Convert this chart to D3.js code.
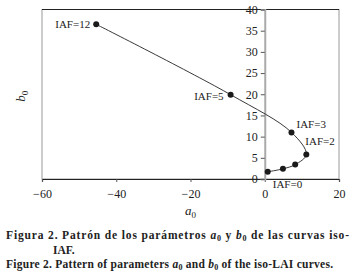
<!DOCTYPE html>
<html lang="es">
<head>
<meta charset="UTF-8">
<script src="https://d3js.org/d3.v7.min.js"></script>
<style>
  body { margin: 0; background: #fff; }
  svg text { font-family: "Liberation Serif", "DejaVu Serif", serif; fill: #222; }
  .cap { font-weight: bold; font-size: 11.5px; }
</style>
</head>
<body>
<svg width="354" height="276"></svg>
<script>
// a0, b0 per IAF level
const iaf = [0, 0.5, 1, 2, 3, 5, 12];
const a0 = [0.8, 4.9, 8.2, 11.2, 7.2, -9.2, -45.4];
const b0 = [1.7, 2.4, 3.4, 5.8, 11.0, 19.9, 36.5];
const xTicks = [-60, -40, -20, 0, 20];
const yTicks = [0, 5, 10, 15, 20, 25, 30, 35, 40];
const labelled = [
  { iaf: 12, text: "IAF=12", dx: -6, dy: 4, anchor: "end" },
  { iaf: 5, text: "IAF=5", dx: -7, dy: 5, anchor: "end" },
  { iaf: 3, text: "IAF=3", dx: 5, dy: -4, anchor: "start" },
  { iaf: 2, text: "IAF=2", dx: -1, dy: -9, anchor: "start" }
];

const data = iaf.map((d, i) => ({ iaf: d, a: a0[i], b: b0[i] }));

const svg = d3.select("svg");
const margin = { top: 9.5, right: 15, bottom: 97, left: 42 };
const W = 354, H = 276;

const x = d3.scaleLinear().domain([-60, 20]).range([margin.left, W - margin.right]);
const y = d3.scaleLinear().domain([0, 40]).range([H - margin.bottom, margin.top]);

// frame
svg.append("rect")
  .attr("x", x(-60)).attr("y", y(40))
  .attr("width", x(20) - x(-60)).attr("height", y(0) - y(40))
  .attr("fill", "none").attr("stroke", "#999").attr("stroke-width", 1);
svg.append("line")
  .attr("x1", x(-60)).attr("x2", x(20)).attr("y1", y(40)).attr("y2", y(40))
  .attr("stroke", "#222");

// x axis
const gx = svg.append("g")
  .attr("transform", `translate(0,${y(0)})`)
  .call(d3.axisBottom(x).tickValues(xTicks).tickSize(3).tickFormat(d => d < 0 ? "\u2212" + Math.abs(d) : d));
gx.select(".domain").attr("stroke", "#222").attr("stroke-width", 1.2);
gx.selectAll(".tick line").attr("stroke", "#555");
gx.selectAll("text").attr("font-size", 12).attr("dy", "1.1em").attr("font-family", "Liberation Serif");

// y axis on a0 = 0
const gy = svg.append("g")
  .attr("transform", `translate(${x(0)},0)`)
  .call(d3.axisLeft(y).tickValues(yTicks).tickSize(4).tickPadding(3));
gy.select(".domain").attr("stroke", "#aaa").attr("stroke-width", 2);
gy.selectAll(".tick line").attr("stroke", "#555");
gy.selectAll("text").attr("font-size", 12).attr("font-family", "Liberation Serif");

// curve
const line = d3.line().x(d => x(d.a)).y(d => y(d.b)).curve(d3.curveCatmullRom.alpha(0.5));
svg.append("path").datum(data)
  .attr("d", line).attr("fill", "none").attr("stroke", "#222").attr("stroke-width", 0.9);

svg.selectAll(".pt").data(data).join("circle")
  .attr("class", "pt")
  .attr("cx", d => x(d.a)).attr("cy", d => y(d.b)).attr("r", 3)
  .attr("fill", "#1a1a1a");

// labels
svg.selectAll(".lab").data(labelled).join("text")
  .attr("class", "lab")
  .attr("x", d => x(data.find(p => p.iaf === d.iaf).a) + d.dx)
  .attr("y", d => y(data.find(p => p.iaf === d.iaf).b) + d.dy)
  .attr("text-anchor", d => d.anchor)
  .attr("font-size", 11)
  .text(d => d.text);
svg.append("text")
  .attr("x", x(0) + 8).attr("y", y(0) + 9)
  .attr("font-size", 11)
  .text("IAF=0");

// axis titles
const yt = svg.append("text")
  .attr("transform", `translate(25,${y(20) + 2}) rotate(-90)`)
  .attr("text-anchor", "middle").attr("font-size", 13).attr("font-style", "italic");
yt.append("tspan").text("b");
yt.append("tspan").attr("font-size", 9).attr("dy", 3).attr("font-style", "normal").text("0");

const xt = svg.append("text")
  .attr("x", x(-20)).attr("y", 215)
  .attr("text-anchor", "middle").attr("font-size", 13).attr("font-style", "italic");
xt.append("tspan").text("a");
xt.append("tspan").attr("font-size", 9).attr("dy", 3).attr("font-style", "normal").text("0");

// caption
function cap(parent, parts) {
  parts.forEach(p => {
    const t = parent.append("tspan").text(p[0]);
    if (p[1] === "i") t.attr("font-style", "italic");
    if (p[1] === "s") t.attr("font-size", 8).attr("dy", 2);
    if (p[1] === "u") t.attr("dy", -2);
  });
}
const c1 = svg.append("text").attr("class", "cap").attr("x", 6).attr("y", 239)
  .attr("textLength", 343).attr("lengthAdjust", "spacing");
cap(c1, [["Figura 2. Patrón de los parámetros "], ["a", "i"], ["0", "s"], [" y ", "u"], ["b", "i"], ["0", "s"], [" de las curvas iso-", "u"]]);
svg.append("text").attr("class", "cap").attr("x", 53).attr("y", 254).text("IAF.");
const c3 = svg.append("text").attr("class", "cap").attr("x", 6).attr("y", 268)
  .attr("textLength", 327).attr("lengthAdjust", "spacing");
cap(c3, [["Figure 2. Pattern of parameters "], ["a", "i"], ["0", "s"], [" and ", "u"], ["b", "i"], ["0", "s"], [" of the iso-LAI curves.", "u"]]);
</script>
</body>
</html>
